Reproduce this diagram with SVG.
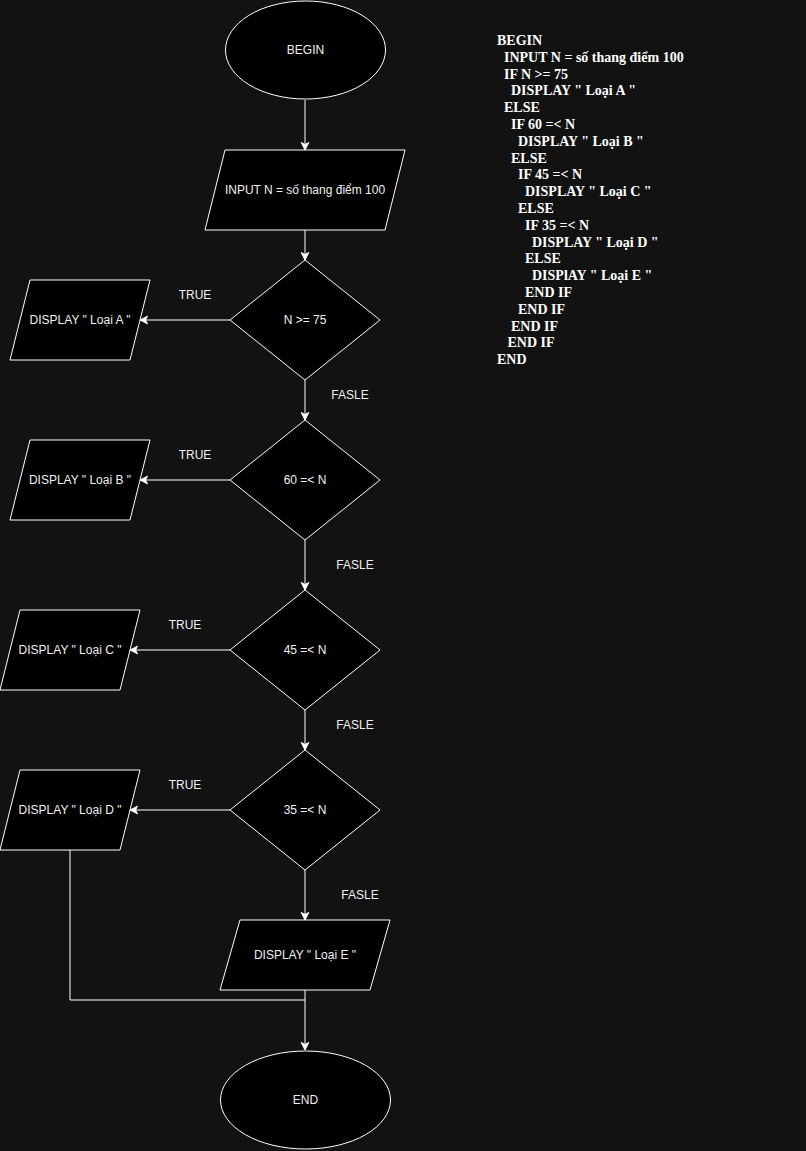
<svg xmlns="http://www.w3.org/2000/svg" width="806" height="1151" viewBox="0 0 806 1151">
  <style>
    .shape { fill: #000000; stroke: #ffffff; stroke-width: 1; }
    .lbl { font-family: "Liberation Sans", Arial, Helvetica, sans-serif; font-size: 12px; fill: #f0f0f0; text-anchor: middle; }
    .edge { fill: none; stroke: #ffffff; stroke-width: 1; }
    .code { font-family: "Liberation Serif", "Times New Roman", serif; font-size: 14px; font-weight: bold; fill: #ffffff; }
  </style>
  <defs>
    <marker id="arrow" viewBox="0 0 10 10" refX="9" refY="5" markerWidth="10" markerHeight="10" markerUnits="userSpaceOnUse" orient="auto">
      <path d="M9,5 L1.5,1.2 L3.5,5 L1.5,8.8 Z" fill="#ffffff" stroke="#ffffff" stroke-width="1"/>
    </marker>
  </defs>

  <rect x="0" y="0" width="806" height="1151" fill="#121212"/>

  <!-- connectors -->
  <g id="connectors">
    <path class="edge" d="M305,100 L305,150" marker-end="url(#arrow)"/>
    <path class="edge" d="M305,230 L305,260" marker-end="url(#arrow)"/>
    <path class="edge" d="M230,320 L140,320" marker-end="url(#arrow)"/>
    <path class="edge" d="M305,380 L305,420" marker-end="url(#arrow)"/>
    <path class="edge" d="M230,480 L140,480" marker-end="url(#arrow)"/>
    <path class="edge" d="M305,540 L305,590" marker-end="url(#arrow)"/>
    <path class="edge" d="M230,650 L130,650" marker-end="url(#arrow)"/>
    <path class="edge" d="M305,710 L305,750" marker-end="url(#arrow)"/>
    <path class="edge" d="M230,810 L130,810" marker-end="url(#arrow)"/>
    <path class="edge" d="M305,870 L305,920" marker-end="url(#arrow)"/>
    <path class="edge" d="M305,990 L305,1050" marker-end="url(#arrow)"/>
    <path class="edge" d="M70,850 L70,1000 L305,1000"/>
    <text class="lbl" x="195" y="299">TRUE</text>
    <text class="lbl" x="350" y="399">FASLE</text>
    <text class="lbl" x="195" y="459">TRUE</text>
    <text class="lbl" x="355" y="569">FASLE</text>
    <text class="lbl" x="185" y="629">TRUE</text>
    <text class="lbl" x="355" y="729">FASLE</text>
    <text class="lbl" x="185" y="789">TRUE</text>
    <text class="lbl" x="360" y="899">FASLE</text>
  </g>

  <g id="begin">
    <ellipse class="shape" cx="305.5" cy="50" rx="80" ry="49"/>
    <text class="lbl" x="305.5" y="54">BEGIN</text>
  </g>

  <g id="input">
    <polygon class="shape" points="225,150 405,150 385,230 205,230"/>
    <text class="lbl" x="305" y="194">INPUT N = số thang điểm 100</text>
  </g>

  <g id="cond-75">
    <polygon class="shape" points="305,260 380,320 305,380 230,320"/>
    <text class="lbl" x="305" y="324">N &gt;= 75</text>
  </g>
  <g id="display-a">
    <polygon class="shape" points="30,280 150,280 130,360 10,360"/>
    <text class="lbl" x="80" y="324">DISPLAY " Loại A "</text>
  </g>

  <g id="cond-60">
    <polygon class="shape" points="305,420 380,480 305,540 230,480"/>
    <text class="lbl" x="305" y="484">60 =&lt; N</text>
  </g>
  <g id="display-b">
    <polygon class="shape" points="30,440 150,440 130,520 10,520"/>
    <text class="lbl" x="80" y="484">DISPLAY " Loại B "</text>
  </g>

  <g id="cond-45">
    <polygon class="shape" points="305,590 380,650 305,710 230,650"/>
    <text class="lbl" x="305" y="654">45 =&lt; N</text>
  </g>
  <g id="display-c">
    <polygon class="shape" points="20,610 140,610 120,690 0,690"/>
    <text class="lbl" x="70" y="654">DISPLAY " Loại C "</text>
  </g>

  <g id="cond-35">
    <polygon class="shape" points="305,750 380,810 305,870 230,810"/>
    <text class="lbl" x="305" y="814">35 =&lt; N</text>
  </g>
  <g id="display-d">
    <polygon class="shape" points="20,770 140,770 120,850 0,850"/>
    <text class="lbl" x="70" y="814">DISPLAY " Loại D "</text>
  </g>

  <g id="display-e">
    <polygon class="shape" points="240,920 390,920 370,990 220,990"/>
    <text class="lbl" x="305" y="959">DISPLAY " Loại E "</text>
  </g>

  <g id="end">
    <ellipse class="shape" cx="305.5" cy="1100" rx="85" ry="49"/>
    <text class="lbl" x="305.5" y="1104">END</text>
  </g>

  <!-- pseudocode listing -->
  <g id="pseudocode" class="code">
    <text x="497" y="45">BEGIN</text>
    <text x="504" y="61.8">INPUT N = số thang điểm 100</text>
    <text x="504" y="78.6">IF N &gt;= 75</text>
    <text x="511" y="95.4">DISPLAY " Loại A "</text>
    <text x="504" y="112.2">ELSE</text>
    <text x="511" y="129">IF 60 =&lt; N</text>
    <text x="518" y="145.8">DISPLAY " Loại B "</text>
    <text x="511" y="162.6">ELSE</text>
    <text x="518" y="179.4">IF 45 =&lt; N</text>
    <text x="525" y="196.2">DISPLAY " Loại C "</text>
    <text x="518" y="213">ELSE</text>
    <text x="525" y="229.8">IF 35 =&lt; N</text>
    <text x="532" y="246.6">DISPLAY " Loại D "</text>
    <text x="525" y="263.4">ELSE</text>
    <text x="532" y="280.2">DISPlAY " Loại E "</text>
    <text x="525" y="297">END IF</text>
    <text x="518" y="313.8">END IF</text>
    <text x="511" y="330.6">END IF</text>
    <text x="507.5" y="347.4">END IF</text>
    <text x="497" y="364.2">END</text>
  </g>
</svg>
